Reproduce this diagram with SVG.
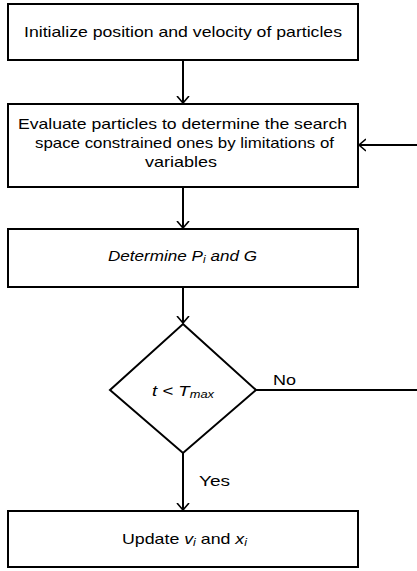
<svg xmlns="http://www.w3.org/2000/svg" width="417" height="571" viewBox="0 0 417 571">
<defs>
<marker id="arr" markerWidth="14" markerHeight="14" refX="7" refY="7" orient="auto" markerUnits="userSpaceOnUse">
<path d="M0,1 L7,7 L0,13" fill="none" stroke="#000" stroke-width="1.6"/>
</marker>
<style>
.box{fill:#fff;stroke:#000;stroke-width:2}
.l{font-family:"Liberation Sans",Arial,sans-serif;font-size:14.5px;fill:#000}
.c{fill:none;stroke:#000;stroke-width:2}
.s{font-size:10px}
</style>
</defs>
<rect width="417" height="571" fill="#fff"/>
<g id="connectors">
<line class="c" x1="183" y1="61" x2="183" y2="103" marker-end="url(#arr)"/>
<line class="c" x1="183" y1="188" x2="183" y2="228" marker-end="url(#arr)"/>
<line class="c" x1="183" y1="288" x2="183" y2="323" marker-end="url(#arr)"/>
<line class="c" x1="183" y1="453" x2="183" y2="510" marker-end="url(#arr)"/>
<polyline class="c" points="256,390 417,390"/>
<line class="c" x1="417" y1="145" x2="359" y2="145" marker-end="url(#arr)"/>
<text class="l" x="273" y="385" textLength="23" lengthAdjust="spacingAndGlyphs">No</text>
<text class="l" x="199" y="486" textLength="31" lengthAdjust="spacingAndGlyphs">Yes</text>
</g>
<g id="init">
<rect class="box" x="8" y="4" width="350" height="56"/>
<text class="l" x="24" y="37" textLength="318" lengthAdjust="spacingAndGlyphs">Initialize position and velocity of particles</text>
</g>
<g id="evaluate">
<rect class="box" x="8" y="104" width="350" height="83"/>
<text class="l" x="18" y="129" textLength="329" lengthAdjust="spacingAndGlyphs">Evaluate particles to determine the search</text>
<text class="l" x="35" y="148" textLength="299" lengthAdjust="spacingAndGlyphs">space constrained ones by limitations of</text>
<text class="l" x="145" y="167" textLength="72" lengthAdjust="spacingAndGlyphs">variables</text>
</g>
<g id="determine">
<rect class="box" x="8" y="229" width="350" height="58"/>
<text class="l" x="108" y="261" font-style="italic" textLength="149" lengthAdjust="spacingAndGlyphs">Determine P<tspan class="s" dy="2">i</tspan><tspan dy="-2"> and G</tspan></text>
</g>
<g id="decision">
<polygon class="box" points="183,324 256,390 183,453 110,390"/>
<text class="l" x="152" y="396" font-style="italic" textLength="62" lengthAdjust="spacingAndGlyphs">t &lt; T<tspan class="s" dy="2">max</tspan></text>
</g>
<g id="update">
<rect class="box" x="8" y="511" width="350" height="56"/>
<text class="l" x="122" y="544" textLength="125" lengthAdjust="spacingAndGlyphs">Update <tspan font-style="italic">v</tspan><tspan font-style="italic" class="s" dy="2">i</tspan><tspan dy="-2"> and </tspan><tspan font-style="italic">x</tspan><tspan font-style="italic" class="s" dy="2">i</tspan></text>
</g>
</svg>
